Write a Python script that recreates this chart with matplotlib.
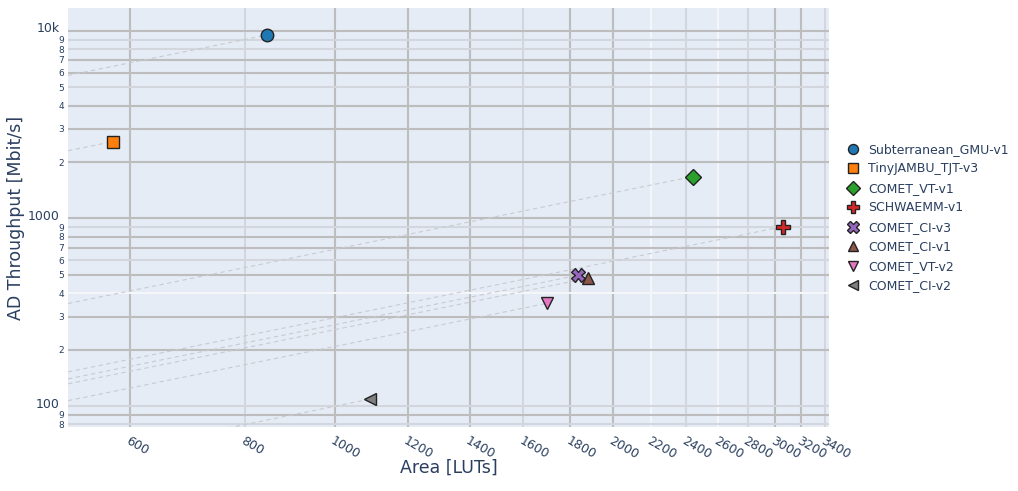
import numpy as np
import matplotlib
matplotlib.use("Agg")
import matplotlib.pyplot as plt
from matplotlib.transforms import ScaledTranslation

plt.rcParams["font.family"] = ["DejaVu Sans"]

# ---------- 数据 ----------
names = ["Subterranean_GMU-v1", "TinyJAMBU_TJT-v3", "COMET_VT-v1", "SCHWAEMM-v1",
         "COMET_CI-v3", "COMET_CI-v1", "COMET_VT-v2", "COMET_CI-v2"]
area = [845, 575, 2442, 3062, 1834, 1879, 1698, 1093]
throughput = [9520, 2570, 1673, 906, 498, 480, 353, 109]

colors = ["#1f77b4", "#ff7f0e", "#2ca02c", "#d62728",
          "#9467bd", "#8c564b", "#e377c2", "#7f7f7f"]
markers = ["o", "s", "D", "P", "X", "^", "v", "<"]
msizes = [9, 9, 8.5, 10, 10, 9, 9, 9]

x_ticks = [600, 800, 1000, 1200, 1400, 1600, 1800, 2000, 2200, 2400,
           2600, 2800, 3000, 3200, 3400]
y_major = [100, 1000, 10000]
y_major_labels = ["100", "1000", "10k"]
y_minor = [80, 90, 200, 300, 400, 500, 600, 700, 800, 900,
           2000, 3000, 4000, 5000, 6000, 7000, 8000, 9000]

# 网格颜色（截图里深浅不一）
G, L, W = "#bdbdbd", "#d3d6dc", "#f4f6fa"
x_grid_col = {600: G, 800: L, 1000: G, 1200: G, 1400: G, 1600: L, 1800: G, 2000: G,
              2200: W, 2400: L, 2600: W, 2800: L, 3000: G, 3200: G, 3400: L}
y_grid_col = {80: L, 90: G, 100: L, 200: G, 300: G, 400: W, 500: G, 600: L, 700: G,
              800: G, 900: L, 1000: G, 2000: G, 3000: G, 4000: G, 5000: L, 6000: G,
              7000: G, 8000: L, 9000: L, 10000: G}

TXT = "#2a3f5f"

fig = plt.figure(figsize=(10.18, 4.91), dpi=100)
ax = fig.add_axes([0.0668, 0.1303, 0.7475, 0.8534])
ax.set_facecolor("#e5ecf6")
for s in ax.spines.values():
    s.set_visible(False)

ax.set_xscale("log")
ax.set_yscale("log")
ax.set_xlim(514, 3430)
ax.set_ylim(77.3, 13250)

for v in x_ticks:
    ax.axvline(v, color=x_grid_col[v], lw=1.5, zorder=0)
for v in y_major + y_minor:
    ax.axhline(v, color=y_grid_col[v], lw=1.5, zorder=0)

# 等效率虚线：从左边界延伸到每个点
x0 = ax.get_xlim()[0]
for a, t in zip(area, throughput):
    xs = np.array([x0, a])
    ax.plot(xs, t * xs / a, color="#c8cbd0", lw=0.8, ls=(0, (4, 3)), zorder=1)

for n, a, t, c, m, ms in zip(names, area, throughput, colors, markers, msizes):
    ax.plot([a], [t], ls="none", marker=m, markersize=ms, color=c,
            markeredgecolor="#222222", markeredgewidth=1.0, label=n, zorder=3)

ax.xaxis.set_minor_locator(matplotlib.ticker.NullLocator())
ax.set_xticks(x_ticks)
ax.set_xticklabels([str(v) for v in x_ticks], rotation=-30, ha="left",
                   rotation_mode="anchor", fontsize=9, color=TXT)
ax.set_yticks(y_major)
ax.set_yticklabels(y_major_labels, fontsize=9, color=TXT)
ax.set_yticks(y_minor, minor=True)
ax.set_yticklabels([str(int(str(v)[0])) for v in y_minor], minor=True,
                   fontsize=6.5, color=TXT)
ax.tick_params(axis="both", which="both", length=0)
ax.tick_params(axis="y", which="major", pad=6)
ax.tick_params(axis="y", which="minor", pad=3)
ax.tick_params(axis="x", pad=5)
# 主刻度标签略微上移
shift = ScaledTranslation(0, 2.5 / 72, fig.dpi_scale_trans)
for lbl in ax.get_yticklabels():
    lbl.set_transform(lbl.get_transform() + shift)

ax.set_xlabel("Area [LUTs]", fontsize=12.5, color=TXT)
ax.xaxis.set_label_coords(0.5, -0.075)
ax.set_ylabel("AD Throughput [Mbit/s]", fontsize=12.5, color=TXT)
ax.yaxis.set_label_coords(-0.056, 0.5)

leg = ax.legend(loc="upper left", bbox_to_anchor=(1.017, 0.69), frameon=False,
                fontsize=9, labelspacing=0.52, handletextpad=0.7,
                borderaxespad=0, handlelength=1.0, markerscale=0.8)
for t in leg.get_texts():
    t.set_color(TXT)

fig.savefig("out.png", dpi=100)
